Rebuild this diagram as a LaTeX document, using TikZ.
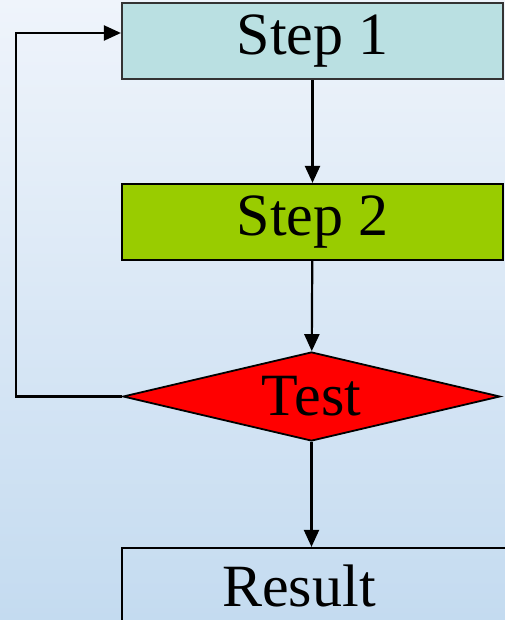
\documentclass[tikz,border=0pt]{standalone}
\usepackage{fontspec}
\setmainfont{Liberation Serif}
\usetikzlibrary{shapes.geometric,arrows.meta}
\definecolor{bgtop}{HTML}{EFF4FB}
\definecolor{bgbottom}{HTML}{C4DBF0}
\definecolor{stepone}{HTML}{BAE0E2}
\definecolor{steptwo}{HTML}{99CC00}
\begin{document}
\begin{tikzpicture}[x=1pt,y=-1pt,
  box/.style={draw,line width=2.2pt,minimum width=381pt,minimum height=76pt,inner sep=0pt,font=\fontsize{60}{60}\selectfont},
  test/.style={diamond,draw,line width=1.8pt,fill=red,aspect=4.24,minimum width=377pt,minimum height=89pt,inner sep=0pt,font=\fontsize{60}{60}\selectfont},
  flow/.style={-{Triangle[length=17pt,width=15pt]},line width=2.2pt}]
 		\useasboundingbox (0,0) rectangle (505,620);
 		\clip (0,0) rectangle (505,620);
 		\shade[top color=bgtop,bottom color=bgbottom] (0,0) rectangle (505,620);
 		% the loop
 		\node[box,fill=stepone,draw=black!80] (s1) at (312.5,41) {\raisebox{-3pt}{Step 1}};
 		\node[box,fill=steptwo] (s2) at (312.5,222) {\raisebox{-3pt}{Step 2}};
 		\node[test] (t) at (311.5,396.5) {Test};
 		\node[box,minimum width=400pt] (res) at (322,586) {Result\hspace*{46pt}};
 		\coordinate (back) at (16,33);
 		\draw[flow] (s1) -- (s2);
 		\draw[flow] (s2) -- (t);
 		\draw[flow] (t) -- (res.north -| t.south);
 		\draw[flow] (t.west) -| (back) -- (s1.west |- back);
 		\end{tikzpicture}
\end{document}
